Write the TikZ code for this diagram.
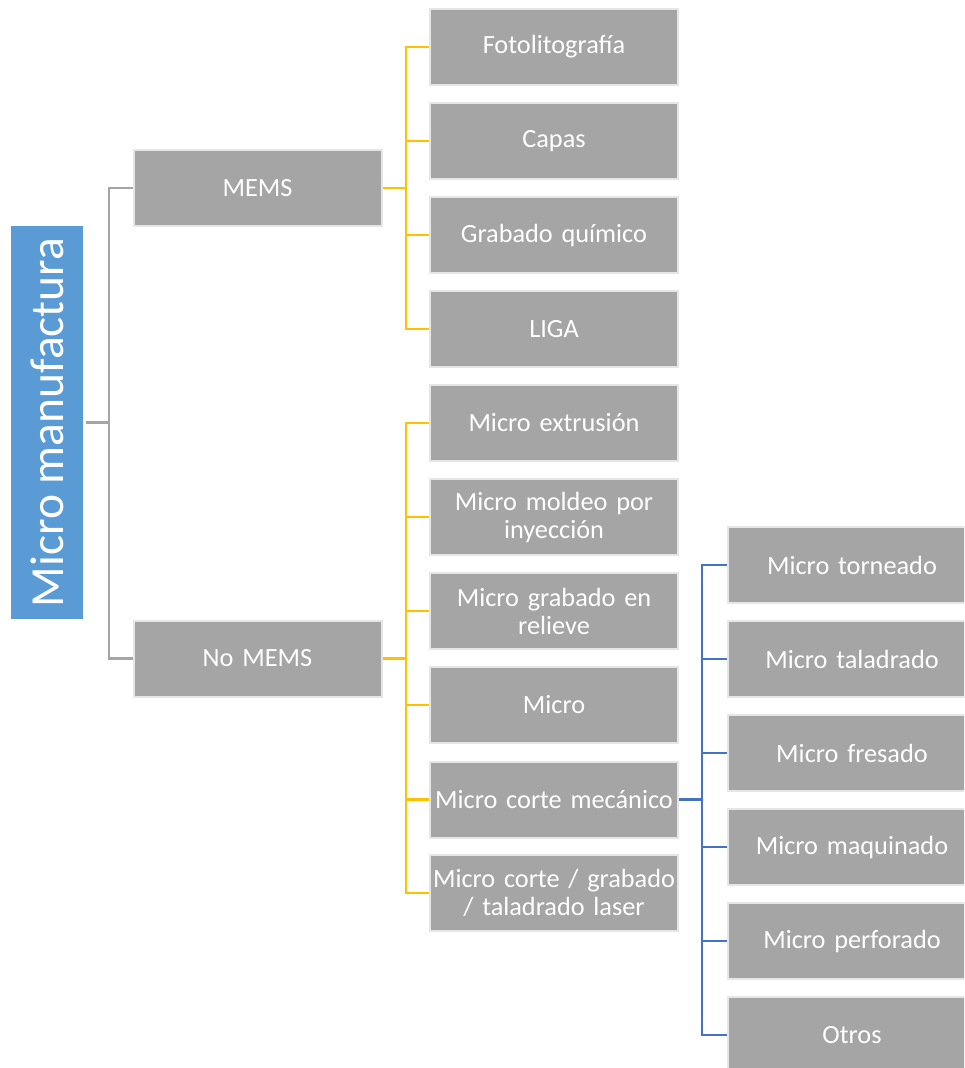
\documentclass[tikz,border=0pt]{standalone}
\usepackage{fontspec}
\setmainfont{Carlito}
\definecolor{boxgray}{HTML}{A5A5A5}
\definecolor{boxedge}{HTML}{E6E6E6}
\definecolor{rootblue}{HTML}{5B9BD5}
\definecolor{lineyel}{HTML}{FFC000}
\definecolor{lineblue}{HTML}{4472C4}
\definecolor{linegray}{HTML}{A5A5A5}
\tikzset{
  box/.style={rectangle, fill=boxgray, draw=boxedge, line width=2pt,
    minimum width=248pt, minimum height=76pt, inner xsep=0pt, inner ysep=2pt,
    text=white, align=center, text width=248pt,
    font=\fontsize{26.3}{28}\selectfont},
  rootbox/.style={rectangle, fill=rootblue, draw=none,
    minimum width=72pt, minimum height=393pt, inner sep=0pt,
    text=white, font=\fontsize{47.5}{50}\selectfont},
  conn/.style={line width=2.2pt},
}
\begin{document}
\begin{tikzpicture}[x=1pt,y=-1pt]
\useasboundingbox (0,0) rectangle (964,1068);
\clip (0,0) rectangle (964,1068);
% root
\node[rootbox] (root) at (47,422.5) {\rotatebox{90}{Micro manufactura}};
% level 1
\node[box] (mems) at (257.5,188) {MEMS};
\node[box] (nomems) at (257.5,658.5) {No MEMS};
% level 2
\node[box] (foto) at (554,47) {Fotolitografía};
\node[box] (capas) at (554,141) {Capas};
\node[box] (grab) at (554,235) {Grabado químico};
\node[box] (liga) at (554,329) {LIGA};
\node[box] (extr) at (554,423) {Micro extrusión};
\node[box] (mold) at (554,517) {Micro moldeo por\\inyección};
\node[box] (relie) at (554,611) {Micro grabado en\\relieve};
\node[box] (micro) at (554,705) {Micro};
\node[box] (corte) at (554,799.5) {Micro corte mecánico};
\node[box] (laser) at (554,893) {Micro corte / grabado\\/ taladrado laser};
% level 3
\node[box] (torn) at (852,565) {Micro torneado};
\node[box] (tala) at (852,659) {Micro taladrado};
\node[box] (fres) at (852,753) {Micro fresado};
\node[box] (maq) at (852,847) {Micro maquinado};
\node[box] (perf) at (852,941) {Micro perforado};
\node[box] (otros) at (852,1035) {Otros};
% connectors root
\coordinate (rj) at (109,422.5);
\draw[conn, linegray] (root.east) ++(3,0) -- (rj);
\draw[conn, linegray] (mems.west) -| (rj) |- (nomems.west);
% MEMS children
\coordinate (mj) at (406,188);
\draw[conn, lineyel] (mems.east) -- (mj);
\foreach \c in {foto,capas,grab,liga}{
  \draw[conn, lineyel] (mj) |- (\c.west);
}
% No MEMS children
\coordinate (nj) at (406,658.5);
\draw[conn, lineyel] (nomems.east) -- (nj);
\foreach \c in {extr,mold,relie,micro,corte,laser}{
  \draw[conn, lineyel] (nj) |- (\c.west);
}
% corte children
\coordinate (cj) at (702,799.5);
\draw[conn, lineblue] (corte.east) -- (cj);
\foreach \c in {torn,tala,fres,maq,perf,otros}{
  \draw[conn, lineblue] (cj) |- (\c.west);
}
\end{tikzpicture}
\end{document}
